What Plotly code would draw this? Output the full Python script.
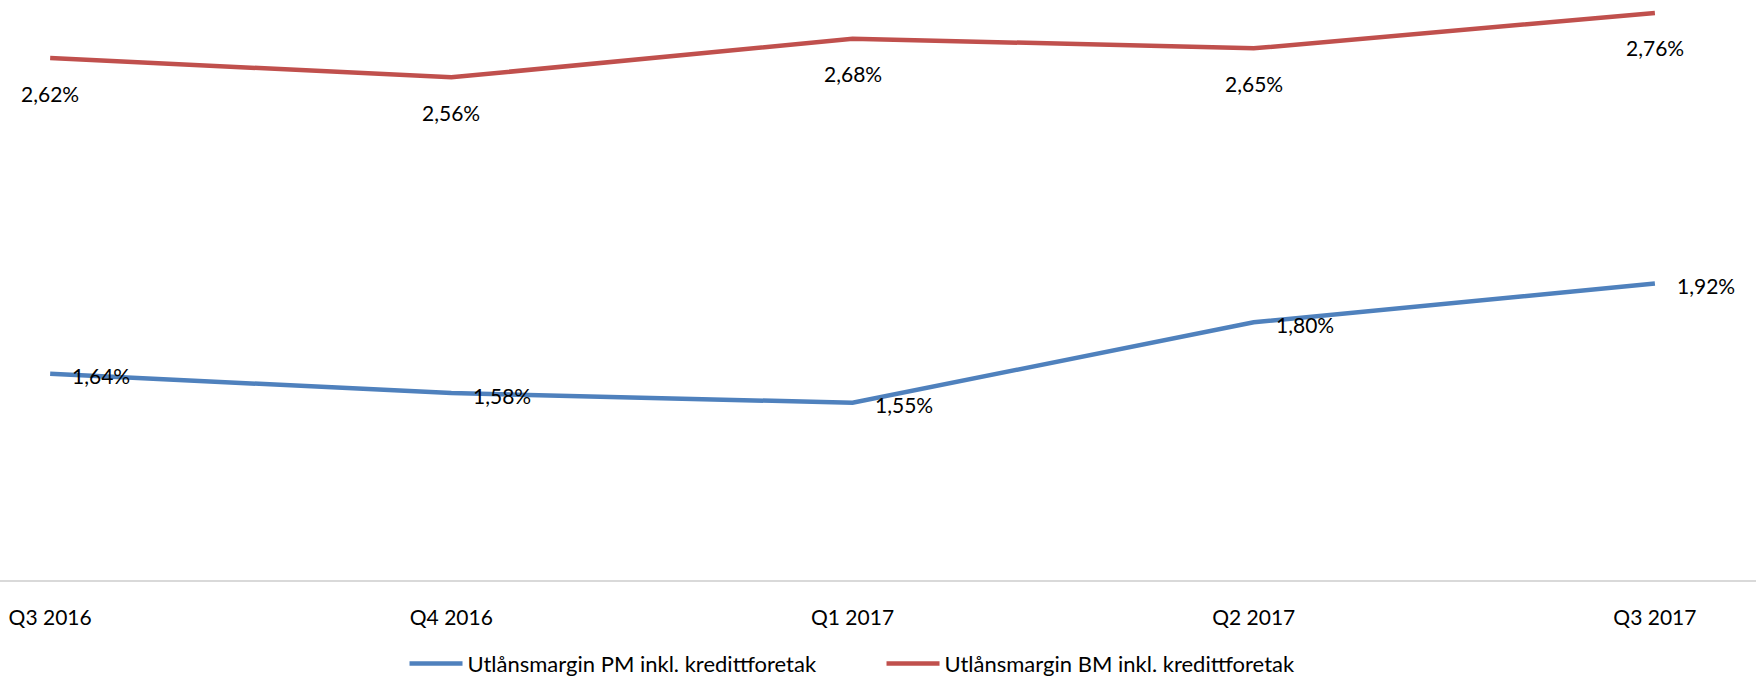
import plotly.graph_objects as go

quarters = ["Q3 2016", "Q4 2016", "Q1 2017", "Q2 2017", "Q3 2017"]
margin_pm = [1.64, 1.58, 1.55, 1.80, 1.92]
margin_bm = [2.62, 2.56, 2.68, 2.65, 2.76]

name_pm = "Utlånsmargin PM inkl. kredittforetak"
name_bm = "Utlånsmargin BM inkl. kredittforetak"

BLUE = "#4F81BD"
RED = "#C0504D"
FONT = "Lato"


def pct(v):
    return f"{v:.2f}%".replace(".", ",")


fig = go.Figure()

fig.add_trace(go.Scatter(
    x=quarters, y=margin_pm, mode="lines", name=name_pm,
    line=dict(color=BLUE, width=4.5),
    hoverinfo="skip",
))
fig.add_trace(go.Scatter(
    x=quarters, y=margin_bm, mode="lines", name=name_bm,
    line=dict(color=RED, width=4.5),
    hoverinfo="skip",
))

# data labels: PM to the right of the point, BM centered below
annotations = []
for q, v in zip(quarters, margin_pm):
    annotations.append(dict(
        x=q, y=v, xref="x", yref="y", text=pct(v), showarrow=False,
        xanchor="left", yanchor="middle", xshift=20, yshift=-2,
        font=dict(family=FONT, size=21, color="black"),
    ))
for q, v in zip(quarters, margin_bm):
    annotations.append(dict(
        x=q, y=v, xref="x", yref="y", text=pct(v), showarrow=False,
        xanchor="center", yanchor="middle", yshift=-35,
        font=dict(family=FONT, size=21, color="black"),
    ))

fig.update_layout(
    width=1756,
    height=678,
    margin=dict(l=0, r=0, t=0, b=98),
    plot_bgcolor="white",
    paper_bgcolor="white",
    font=dict(family=FONT, size=21, color="black"),
    annotations=annotations,
    showlegend=True,
    legend=dict(
        orientation="h", x=0.502, xanchor="center",
        yref="container", y=0.021, yanchor="middle",
        font=dict(family=FONT, size=22, color="black"),
        itemwidth=53,
        entrywidth=409, entrywidthmode="pixels",
    ),
    xaxis=dict(
        type="category",
        range=[-0.125, 4.252],
        automargin=False,
        showline=True, linecolor="#D9D9D9", linewidth=1.5,
        showgrid=False, zeroline=False, ticks="",
        ticklabelstandoff=18,
        tickfont=dict(family=FONT, size=21, color="black"),
    ),
    yaxis=dict(
        range=[1.0, 2.8],
        automargin=False,
        showline=False, showgrid=False, zeroline=False,
        showticklabels=False, ticks="",
    ),
)

# drop the browser's default 8px body margin so the figure fills the window
fig.write_html(
    "out.html",
    config={"displayModeBar": False},
    post_script="document.body.style.margin = '0';",
)
